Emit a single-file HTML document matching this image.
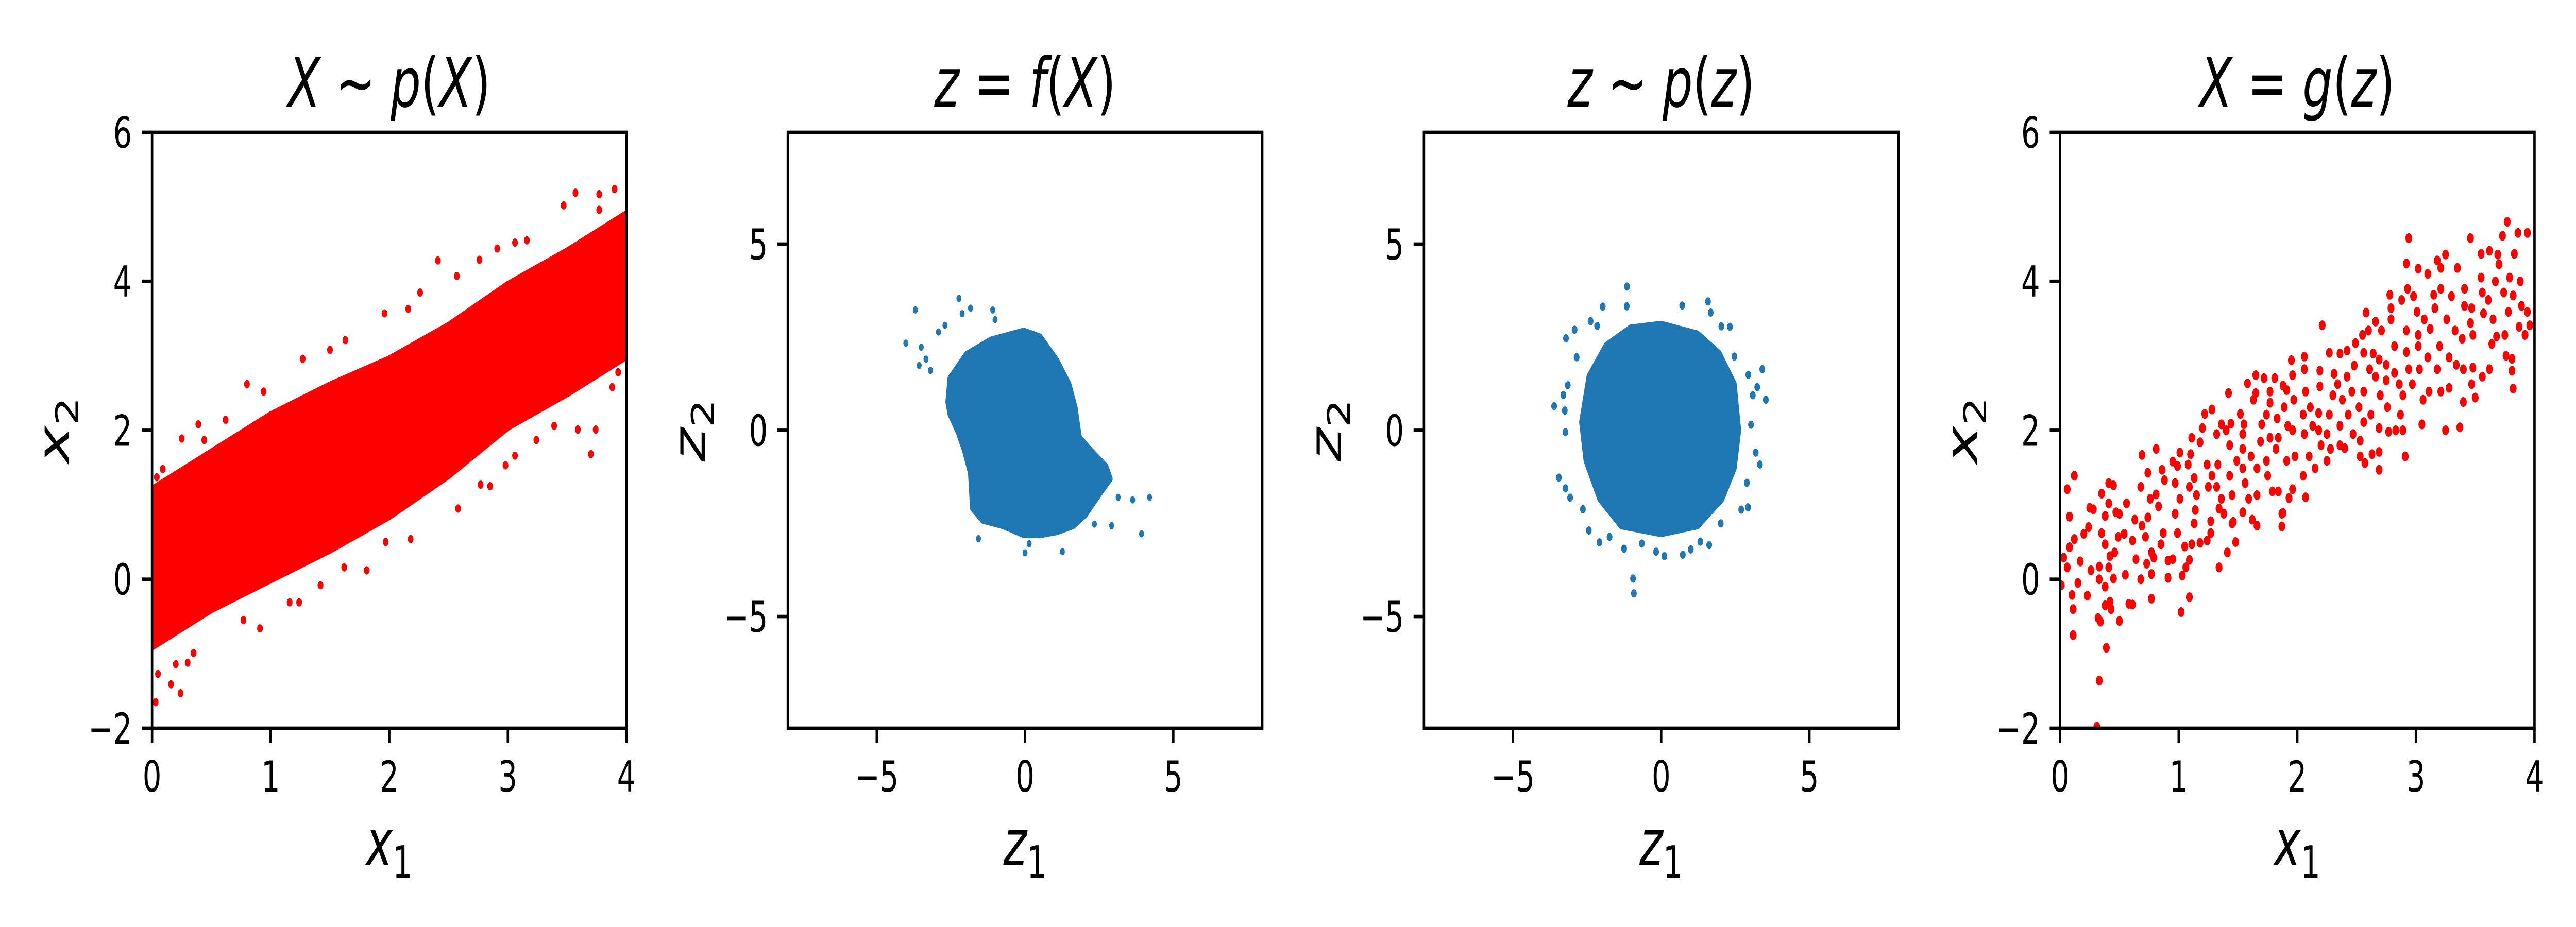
<!DOCTYPE html>
<html><head><meta charset="utf-8"><style>
html,body{margin:0;padding:0;background:#fff;width:100%;height:100%;overflow:hidden;}
svg{display:block;position:fixed;left:0;top:0;width:100vw;height:100vh;}
text{font-family:"DejaVu Sans","Liberation Sans",sans-serif;fill:#000;}
.mi{font-style:italic;}
</style></head><body>
<svg id="fig" viewBox="0 0 7200 1800" preserveAspectRatio="none" xmlns="http://www.w3.org/2000/svg">
<rect x="0" y="0" width="7200" height="1800" fill="#fff"/>
<g id="root"></g>
</svg>
<script>
// ---------- data ----------
const p1TickX = [0,1,2,3,4];
const p1TickY = [-2,0,2,4,6];
const p2TickX = [-5,0,5];
const p2TickY = [-5,0,5];
// panel 1 dense band envelopes
const band1X = [0,0.5,1,1.5,2,2.5,3,3.5,4];
const band1Up = [1.2,1.7,2.2,2.6,2.95,3.4,3.95,4.4,4.9];
const band1Lo = [-0.9,-0.4,0.0,0.4,0.85,1.4,2.05,2.5,3.0];
const out1 = [[0.80,2.62],[0.94,2.52],[1.27,2.96],[1.50,3.08],[1.63,3.21],[1.96,3.57],[2.16,3.63],[2.26,3.85],[2.41,4.28],[2.57,4.07],[2.76,4.29],[2.91,4.44],[3.06,4.52],[3.16,4.55],[3.47,5.02],[3.57,5.19],[3.77,5.17],[3.90,5.24],[3.77,4.96],
[0.03,-1.65],[0.05,-1.27],[0.16,-1.41],[0.24,-1.53],[0.20,-1.14],[0.30,-1.12],[0.35,-0.99],[0.91,-0.66],[0.77,-0.55],[1.42,-0.08],[1.24,-0.31],[1.16,-0.31],[1.62,0.16],[1.81,0.12],[1.97,0.5],[2.18,0.54],[2.58,0.95],[2.77,1.27],[2.85,1.25],[2.98,1.53],[3.06,1.66],[3.24,1.87],[3.39,2.06],[3.59,2.01],[3.74,2.01],[3.70,1.68],[3.88,2.58],[3.93,2.78],
[0.09,1.48],[0.25,1.89],[0.39,2.08],[0.62,2.14],[0.44,1.87],[0.04,1.37]];
// panel 2 blob outline + outliers
const blob2X = [-2.60,-2.53,-1.98,-1.15,-0.04,0.51,1.07,1.48,1.69,1.83,2.17,2.73,2.87,2.45,2.04,1.62,1.07,0.51,-0.04,-0.73,-1.43,-1.77,-1.84,-2.05,-2.26,-2.53];
const blob2Y = [0.76,1.39,2.03,2.42,2.66,2.50,1.87,1.23,0.60,-0.19,-0.51,-0.98,-1.30,-1.77,-2.25,-2.56,-2.72,-2.80,-2.80,-2.56,-2.41,-2.09,-1.14,-0.51,-0.03,0.44];
const out2 = [[-4.02,2.34],[-3.70,3.23],[-3.50,2.23],[-3.57,1.74],[-3.34,1.91],[-3.19,1.61],[-2.92,2.64],[-2.70,2.82],[-2.23,3.54],[-2.12,3.13],[-1.84,3.28],[-1.09,3.23],[-1.01,2.97],[3.63,-1.87],[4.20,-1.80],[3.93,-2.78],[2.92,-2.56],[3.14,-1.80],[0,-3.29],[1.26,-3.26],[0.14,-3.05],[-1.57,-2.91],[2.34,-2.52]];
// panel 3 blob outline + outliers
const blob3X = [0,1.22,1.94,2.45,2.60,2.45,2.04,1.22,0,-1.34,-2.06,-2.52,-2.67,-2.42,-1.85,-1.03];
const blob3Y = [2.83,2.57,2.06,1.24,0,-1.01,-1.83,-2.55,-2.76,-2.55,-1.83,-0.81,0.22,1.44,2.26,2.73];
const out3 = [[-1.15,3.86],[-1.16,3.33],[-1.97,3.32],[0.71,3.35],[1.58,3.46],[1.67,3.16],[-2.92,2.70],[-3.21,2.47],[-2.38,2.93],[-2.16,2.80],[2.03,2.79],[2.32,2.78],[3.41,1.64],[3.24,1.16],[3.53,0.82],[3.09,0.94],[2.94,1.49],[2.47,1.98],[-3.61,0.65],[-3.30,0.95],[-3.15,1.21],[-3.25,0.53],[-2.85,1.96],[-3.23,-0.05],[-3.45,-1.27],[-3.23,-1.56],[-3.07,-1.81],[-2.64,-2.12],[-2.44,-2.69],[-2.08,-3.01],[-1.74,-2.86],[-1.25,-3.18],[-0.65,-3.04],[-0.17,-3.26],[0.11,-3.38],[0.73,-3.34],[1.00,-3.20],[1.32,-2.99],[1.62,-3.08],[-0.95,-3.98],[-0.92,-4.38],[2.93,-2.07],[2.70,-2.13],[2.89,-1.41],[3.33,-0.92],[3.19,-0.60],[2.01,-2.50],[3.03,0.15]];
// panel 4 samples
const pts4 = [[0.03,0.29],[0.06,1.21],[0.12,1.39],[0.08,0.84],[0.12,0.54],[0.08,0.43],[0.06,0.16],[0.01,-0.08],[0.10,-0.21],[0.11,-0.40],[0.11,-0.75],[0.15,-0.05],[0.17,0.24],[0.20,0.61],[0.24,0.70],[0.25,0.96],[0.28,0.94],[0.26,0.12],[0.23,-0.22],[0.33,0.17],[0.33,0.00],[0.32,-0.52],[0.34,-0.57],[0.33,-1.36],[0.31,-1.98],[0.39,-0.92],[0.35,1.15],[0.41,1.29],[0.45,1.26],[0.38,0.85],[0.41,1.02],[0.35,0.62],[0.38,0.47],[0.42,0.31],[0.46,0.36],[0.41,0.16],[0.45,0.01],[0.38,-0.10],[0.42,-0.30],[0.38,-0.35],[0.43,-0.40],[0.50,-0.56],[0.49,0.57],[0.47,0.90],[0.50,0.88],
[0.54,0.61],[0.56,1.02],[0.61,0.52],[0.63,0.80],[0.58,-0.33],[0.61,-0.34],[0.55,0.06],[0.64,0.27],[0.68,0.00],[0.69,1.67],[0.68,1.24],[0.74,1.43],[0.76,1.08],[0.69,0.72],[0.74,0.83],[0.72,0.57],[0.77,0.36],[0.73,0.21],[0.77,0.07],[0.77,-0.26],[0.81,1.75],[0.81,1.14],[0.86,1.47],[0.88,1.33],[0.83,0.98],[0.87,0.62],[0.85,0.47],[0.79,0.29],[0.91,0.02],[0.91,0.25],[0.95,0.27],[0.95,1.58],[0.99,1.52],[0.97,1.29],[0.97,0.88],[0.99,0.62],[1.01,1.70],[1.02,-0.44],[1.03,0.05],[1.01,1.08],
[1.05,0.44],[1.06,0.16],[1.09,-0.24],[1.11,0.47],[1.09,0.26],[1.11,1.90],[1.10,1.68],[1.08,1.54],[1.13,1.36],[1.09,1.24],[1.15,1.13],[1.14,0.93],[1.13,0.75],[1.18,0.49],[1.18,1.84],[1.20,2.03],[1.22,2.22],[1.28,2.28],[1.24,1.54],[1.25,1.24],[1.28,1.39],[1.27,0.78],[1.27,0.62],[1.24,0.52],[1.32,1.95],[1.33,1.54],[1.32,1.24],[1.36,1.08],[1.34,0.95],[1.34,0.16],[1.36,2.08],[1.40,2.00],[1.38,0.88],[1.41,0.36],[1.42,2.50],[1.44,2.09],[1.43,1.80],[1.43,1.39],[1.45,1.13],[1.46,0.77],[1.48,0.50],[1.45,0.75],[1.49,1.59],
[1.52,2.22],[1.54,1.95],[1.55,2.08],[1.54,1.75],[1.54,1.49],[1.56,1.29],[1.59,1.08],[1.54,0.90],[1.62,0.80],[1.66,0.72],[1.58,2.63],[1.65,2.74],[1.65,2.50],[1.63,2.41],[1.61,1.65],[1.66,1.13],[1.66,1.49],[1.69,1.85],[1.70,2.08],[1.72,2.70],[1.77,2.52],[1.77,2.37],[1.74,2.21],[1.77,1.90],[1.74,1.59],[1.75,1.39],[1.79,1.18],[1.81,2.70],[1.83,2.16],[1.84,1.90],[1.82,1.75],[1.84,1.18],[1.87,0.88],[1.88,0.89],[1.87,0.71],[1.88,2.60],[1.91,2.54],[1.89,2.31],[1.92,2.06],[1.91,1.59],[1.93,1.09],[1.95,2.94],[1.96,2.74],[1.97,2.41],[1.96,2.00],[1.96,1.21],[1.98,1.65],
[2.06,2.99],[2.06,2.82],[2.07,2.52],[2.05,2.21],[2.06,1.95],[2.05,1.39],[2.07,1.10],[2.11,2.31],[2.13,2.06],[2.10,1.65],[2.15,1.49],[2.19,2.80],[2.19,2.59],[2.18,2.23],[2.18,2.00],[2.20,1.80],[2.21,3.41],[2.25,1.59],[2.25,1.95],[2.27,2.21],[2.27,3.04],[2.31,2.76],[2.30,2.47],[2.28,1.75],[2.36,3.03],[2.36,1.80],[2.36,2.06],[2.40,1.76],[2.34,2.62],[2.38,2.41],[2.42,3.07],[2.42,2.72],[2.43,2.21],[2.46,2.52],[2.47,1.95],[2.49,3.17],[2.48,2.87],
[2.53,1.65],[2.53,1.86],[2.57,1.56],[2.56,2.11],[2.52,2.31],[2.56,2.52],[2.56,3.04],[2.58,3.58],[2.55,3.28],[2.60,3.34],[2.61,2.82],[2.64,3.03],[2.62,2.21],[2.63,1.68],[2.66,2.72],[2.69,2.95],[2.69,2.03],[2.69,1.71],[2.69,1.47],[2.66,3.46],[2.71,3.34],[2.70,2.47],[2.75,2.88],[2.75,2.67],[2.76,2.31],[2.77,1.98],[2.79,3.49],[2.78,3.82],[2.79,3.64],[2.82,3.13],[2.82,2.77],[2.83,2.00],[2.86,2.62],[2.87,2.21],[2.89,2.00],[2.88,3.75],[2.92,3.34],[2.92,3.05],[2.89,2.47],[2.91,1.65],[2.92,4.24],[2.94,4.58],[2.93,3.90],[2.94,2.82],[2.97,2.62],[2.98,3.80],
[3.02,4.17],[3.01,3.59],[3.02,3.28],[3.03,2.82],[3.05,2.08],[3.02,3.13],[3.06,2.41],[3.07,3.49],[3.10,4.10],[3.10,2.98],[3.11,2.52],[3.12,3.36],[3.15,3.82],[3.16,3.64],[3.18,2.82],[3.18,4.28],[3.21,4.18],[3.21,3.90],[3.20,3.13],[3.21,2.52],[3.25,2.00],[3.25,4.36],[3.26,3.49],[3.28,2.98],[3.28,2.57],[3.30,3.80],[3.33,3.34],[3.34,2.88],[3.35,4.18],[3.37,2.04],[3.40,2.38],[3.41,3.90],[3.41,3.67],[3.39,3.23],[3.40,2.82],[3.46,4.58],[3.46,3.44],[3.48,2.84],[3.47,2.62],[3.50,2.44],[3.48,3.28],[3.47,3.64],
[3.55,4.37],[3.55,4.05],[3.56,3.85],[3.56,2.72],[3.57,3.57],[3.62,4.41],[3.61,3.75],[3.62,2.82],[3.64,3.16],[3.65,3.49],[3.67,4.00],[3.68,3.26],[3.70,4.23],[3.69,4.36],[3.73,4.61],[3.74,3.85],[3.75,3.28],[3.76,3.00],[3.77,4.80],[3.78,3.59],[3.79,4.05],[3.81,2.80],[3.82,2.56],[3.81,2.96],[3.82,3.81],[3.83,4.37],[3.86,4.65],[3.88,4.00],[3.89,3.67],[3.87,3.39],[3.92,3.28],[3.94,4.65],[3.94,3.59],[3.96,3.41]];

// ---------- drawing ----------
const NS = 'http://www.w3.org/2000/svg';
const root = document.getElementById('root');
const TOP = 257, BOT = 1414, W = 1326;
const RED = '#ff0000', BLUE = '#1f77b4';
const SXF = 1;
function mk(tag, attrs, parent){
  const e = document.createElementNS(NS, tag);
  for (const k in attrs) e.setAttribute(k, attrs[k]);
  (parent||root).appendChild(e);
  return e;
}
function fmt(v){ return v < 0 ? '\u2212' + Math.abs(v) : String(v); }
function mathText(parent, x, y, parts, size, anchor, rot, name){
  const t = mk('text', {x:x, y:y, 'font-size':size, 'text-anchor':anchor||'middle'}, parent);
  
  
  if (rot) t.setAttribute('transform', 'rotate(' + rot + ' ' + x + ' ' + y + ')');
  parts.forEach(p => {
    const s = document.createElementNS(NS, 'tspan');
    if (p.i) s.setAttribute('class', 'mi');
    if (p.sub){ s.setAttribute('font-size', size*0.7); s.setAttribute('dy', size*0.2); }
    s.textContent = p.t;
    t.appendChild(s);
  });
  return t;
}

function panel(idx, left, xmin, xmax, ymin, ymax, ticksX, ticksY, title, xl, yl){
  const g = mk('g', {});
  
  
  const sx = v => left + (v - xmin) / (xmax - xmin) * W;
  const sy = v => BOT - (v - ymin) / (ymax - ymin) * (BOT - TOP);
  const clipId = 'clip' + idx;
  const cp = mk('clipPath', {id: clipId}, g);
  mk('rect', {x:left, y:TOP, width:W, height:BOT-TOP}, cp);
  const plot = mk('g', {'clip-path':'url(#' + clipId + ')'}, g);
  
  
  ticksX.forEach(v => {
    const l = mk('line', {x1:sx(v), x2:sx(v), y1:BOT, y2:BOT+29, stroke:'#000', 'stroke-width':6.7}, g);
    
    
    const t = mk('text', {x:sx(v), y:BOT+123, 'font-size':83, 'text-anchor':'middle'}, g);
    
    
    t.textContent = fmt(v);
  });
  ticksY.forEach(v => {
    const l = mk('line', {x1:left-29, x2:left, y1:sy(v), y2:sy(v), stroke:'#000', 'stroke-width':6.7}, g);
    
    
    const t = mk('text', {x:left-56, y:sy(v)+30, 'font-size':83, 'text-anchor':'end'}, g);
    
    
    t.textContent = fmt(v);
  });
  mathText(g, left + W/2, 207, title, 133, 'middle', 0, 'panel-title');
  mathText(g, left + W/2, 1680, xl, 125, 'middle', 0, 'x-axis-title');
  mathText(g, left - 232, (TOP+BOT)/2, yl, 125, 'middle', -90, 'y-axis-title');
  return {g, plot, sx, sy, left};
}
function spine(p){
  const r = mk('rect', {x:p.left, y:TOP, width:W, height:BOT-TOP, fill:'none', stroke:'#000', 'stroke-width':6.7}, p.g);
  
  
}
function dots(p, arr, r, col, name){
  arr.forEach(d => {
    const c = mk('ellipse', {cx:p.sx(d[0]), cy:p.sy(d[1]), rx:r*SXF, ry:r, fill:col}, p.plot);
    
    
  });
}
function blob(p, xs, ys, col, r, name){
  const pts = xs.map((x,i) => p.sx(x) + ',' + p.sy(ys[i])).join(' ');
  const e = mk('polygon', {points:pts, fill:col, stroke:col, 'stroke-width':2*r, 'stroke-linejoin':'round'}, p.plot);
  
  
}

const X = {t:'X', i:1};
const P1 = panel(1, 425, 0, 4, -2, 6, p1TickX, p1TickY,
  [X, {t:' ~ '}, {t:'p', i:1}, {t:'('}, X, {t:')'}],
  [{t:'x', i:1}, {t:'1', sub:1}], [{t:'x', i:1}, {t:'2', sub:1}]);
{
  const up = band1X.map((x,i) => P1.sx(x) + ',' + P1.sy(band1Up[i]));
  const lo = band1X.map((x,i) => P1.sx(x) + ',' + P1.sy(band1Lo[i])).reverse();
  const e = mk('polygon', {points: up.concat(lo).join(' '), fill:RED, stroke:RED, 'stroke-width':16, 'stroke-linejoin':'round'}, P1.plot);
  
  
}
dots(P1, out1, 8, RED, 'sample-point');
spine(P1);

const P2 = panel(2, 2202, -8, 8, -8, 8, p2TickX, p2TickY,
  [{t:'z', i:1}, {t:' = '}, {t:'f', i:1}, {t:'('}, X, {t:')'}],
  [{t:'z', i:1}, {t:'1', sub:1}], [{t:'z', i:1}, {t:'2', sub:1}]);
blob(P2, blob2X, blob2Y, BLUE, 7, 'latent-blob');
dots(P2, out2, 7, BLUE, 'latent-point');
spine(P2);

const P3 = panel(3, 3980, -8, 8, -8, 8, p2TickX, p2TickY,
  [{t:'z', i:1}, {t:' ~ '}, {t:'p', i:1}, {t:'('}, {t:'z', i:1}, {t:')'}],
  [{t:'z', i:1}, {t:'1', sub:1}], [{t:'z', i:1}, {t:'2', sub:1}]);
blob(P3, blob3X, blob3Y, BLUE, 8, 'prior-blob');
dots(P3, out3, 8, BLUE, 'prior-point');
spine(P3);

const P4 = panel(4, 5758, 0, 4, -2, 6, p1TickX, p1TickY,
  [X, {t:' = '}, {t:'g', i:1}, {t:'('}, {t:'z', i:1}, {t:')'}],
  [{t:'x', i:1}, {t:'1', sub:1}], [{t:'x', i:1}, {t:'2', sub:1}]);
dots(P4, pts4, 9.5, RED, 'generated-point');
spine(P4);
</script>
</body></html>
